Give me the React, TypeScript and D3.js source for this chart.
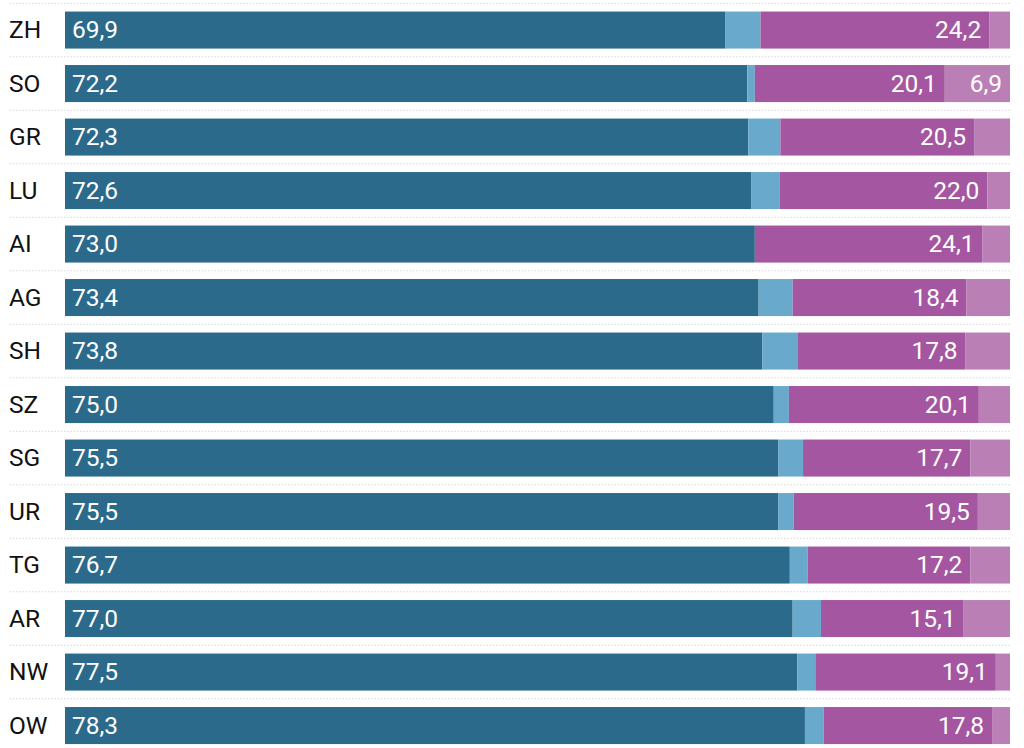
import React from 'react';
import * as d3 from 'd3';

// cantons, top to bottom
const cantons = ['ZH', 'SO', 'GR', 'LU', 'AI', 'AG', 'SH', 'SZ', 'SG', 'UR', 'TG', 'AR', 'NW', 'OW'];

// shares in percent, one array per segment
const darkShare = [69.9, 72.2, 72.3, 72.6, 73.0, 73.4, 73.8, 75.0, 75.5, 75.5, 76.7, 77.0, 77.5, 78.3];
const lightBlueShare = [3.7, 0.8, 3.4, 3.0, 0.0, 3.6, 3.7, 1.6, 2.6, 1.6, 1.9, 3.0, 1.9, 2.0];
const purpleShare = [24.2, 20.1, 20.5, 22.0, 24.1, 18.4, 17.8, 20.1, 17.7, 19.5, 17.2, 15.1, 19.1, 17.8];
const lightPurpleShare = [2.2, 6.9, 3.8, 2.4, 2.9, 4.6, 4.7, 3.3, 4.2, 3.4, 4.2, 4.9, 1.5, 1.9];

const segmentColors = ['#2b6a8b', '#69aacc', '#a556a1', '#ba7fb5'];

const WIDTH = 1024;
const HEIGHT = 748;
const FONT = 'Roboto, "Noto Sans", sans-serif';
const FONT_SIZE = 24.5;

const fmt = (v: number) => v.toFixed(1).replace('.', ',');

const App: React.FC = () => {
  const x = d3.scaleLinear().domain([0, 100]).range([65, 1010]);
  const y = d3.scaleBand<string>()
    .domain(cantons)
    .range([3.3, 3.3 + cantons.length * 53.5])
    .paddingInner(0.308)
    .paddingOuter(0.154);
  const gapTop = (y.step() * 0.308) / 2;

  const rows = cantons.map((c, i) => {
    const vals = [darkShare[i], lightBlueShare[i], purpleShare[i], lightPurpleShare[i]];
    let acc = 0;
    const segs = vals.map((v, k) => {
      const s = { k, v, x0: acc, x1: acc + v };
      acc += v;
      return s;
    });
    return { c, segs };
  });

  return (
    <svg
      width={WIDTH}
      height={HEIGHT}
      style={{ position: 'absolute', left: 0, top: 0, background: '#fff' }}
      fontFamily={FONT}
    >
      {rows.map(({ c, segs }) => {
        const top = y(c)!;
        const mid = top + y.bandwidth() / 2;
        return (
          <g key={c}>
            <line
              x1={10}
              x2={1011}
              y1={top - gapTop}
              y2={top - gapTop}
              stroke="#cfcfcf"
              strokeWidth={1}
              strokeDasharray="1.2,2"
            />
            <text x={9} y={mid} dy="0.33em" fontSize={FONT_SIZE} fill="#111">{c}</text>
            {segs.map(s => (
              <rect
                key={s.k}
                x={x(s.x0)}
                y={top}
                width={Math.max(0, x(s.x1) - x(s.x0))}
                height={y.bandwidth()}
                fill={segmentColors[s.k]}
              />
            ))}
            <text x={x(segs[0].x0) + 7} y={mid} dy="0.33em" fontSize={FONT_SIZE} fill="#fff">
              {fmt(segs[0].v)}
            </text>
            <text x={x(segs[2].x1) - 8} y={mid} dy="0.33em" fontSize={FONT_SIZE} fill="#fff" textAnchor="end">
              {fmt(segs[2].v)}
            </text>
            {segs[3].v >= 6 && (
              <text x={x(segs[3].x1) - 8} y={mid} dy="0.33em" fontSize={FONT_SIZE} fill="#fff" textAnchor="end">
                {fmt(segs[3].v)}
              </text>
            )}
          </g>
        );
      })}
    </svg>
  );
};

export default App;
